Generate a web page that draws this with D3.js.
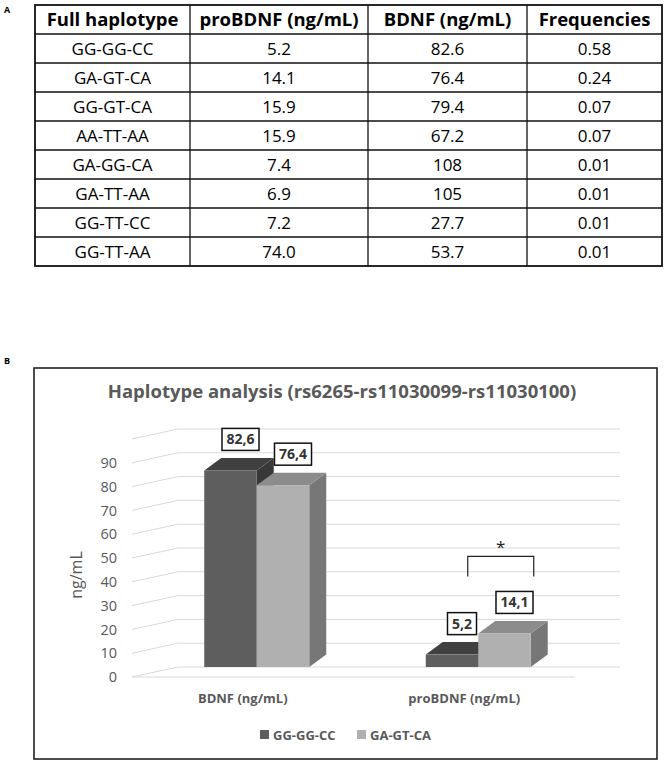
<!DOCTYPE html>
<html>
<head>
<meta charset="utf-8">
<script src="https://cdn.jsdelivr.net/npm/d3@7"></script>
<style>
  body { margin: 0; background: #fff; }
  svg { display: block; }
</style>
</head>
<body>
<div id="fig"></div>
<script>
// ---- panel A: table ----
const tableHeaders = ["Full haplotype", "proBDNF (ng/mL)", "BDNF (ng/mL)", "Frequencies"];
const haplotypes = ["GG-GG-CC", "GA-GT-CA", "GG-GT-CA", "AA-TT-AA", "GA-GG-CA", "GA-TT-AA", "GG-TT-CC", "GG-TT-AA"];
const proBdnfCol = ["5.2", "14.1", "15.9", "15.9", "7.4", "6.9", "7.2", "74.0"];
const bdnfCol = ["82.6", "76.4", "79.4", "67.2", "108", "105", "27.7", "53.7"];
const freqCol = ["0.58", "0.24", "0.07", "0.07", "0.01", "0.01", "0.01", "0.01"];

// ---- panel B: 3D bar chart ----
const categories = ["BDNF (ng/mL)", "proBDNF (ng/mL)"];
const seriesNames = ["GG-GG-CC", "GA-GT-CA"];
const ggggccValues = [82.6, 5.2];
const gagtcaValues = [76.4, 14.1];
const yTicks = [0, 10, 20, 30, 40, 50, 60, 70, 80, 90];
const gridValues = [0, 10, 20, 30, 40, 50, 60, 70, 80, 90, 100];
const sigBracket = { category: "proBDNF (ng/mL)", top: 46.5, bottom: 38 };

const width = 669;
const height = 765;
const grey = "#595959";
const font = "'Open Sans', sans-serif";

const svg = d3.select("#fig")
  .append("svg")
  .attr("width", width)
  .attr("height", height)
  .style("font-family", font);

svg.append("rect").attr("width", width).attr("height", height).attr("fill", "#fff");

// labels A / B
svg.append("text").attr("x", 4).attr("y", 13).text("A")
  .attr("font-size", "9px").attr("font-weight", "bold");
svg.append("text").attr("x", 4).attr("y", 364).text("B")
  .attr("font-size", "9px").attr("font-weight", "bold");

// ---- table ----
const colEdges = [35, 190, 368, 527, 662];
const rows = [tableHeaders].concat(haplotypes.map((h, i) => [h, proBdnfCol[i], bdnfCol[i], freqCol[i]]));
const rowY = d3.scaleBand().domain(d3.range(rows.length)).range([5, 266]);

const table = svg.append("g").attr("class", "table");

rows.forEach((row, r) => {
  row.forEach((cell, c) => {
    table.append("text")
      .attr("x", (colEdges[c] + colEdges[c + 1]) / 2)
      .attr("y", rowY(r) + rowY.bandwidth() / 2 + 6.5)
      .attr("text-anchor", "middle")
      .attr("font-size", r === 0 ? "18.5px" : "17px")
      .attr("font-weight", r === 0 ? "bold" : "normal")
      .attr("fill", "#000")
      .text(cell);
  });
});

// row lines
d3.range(1, rows.length).forEach(r => {
  table.append("line")
    .attr("x1", colEdges[0]).attr("x2", colEdges[4])
    .attr("y1", rowY(r)).attr("y2", rowY(r))
    .attr("stroke", "#111").attr("stroke-width", 1.3);
});
// column lines
colEdges.slice(1, 4).forEach(x => {
  table.append("line")
    .attr("x1", x).attr("x2", x)
    .attr("y1", 5).attr("y2", 266)
    .attr("stroke", "#111").attr("stroke-width", 1.3);
});
table.append("rect")
  .attr("x", colEdges[0]).attr("y", 5)
  .attr("width", colEdges[4] - colEdges[0]).attr("height", 261)
  .attr("fill", "none").attr("stroke", "#111").attr("stroke-width", 1.8);

// ---- chart frame ----
svg.append("rect")
  .attr("x", 34).attr("y", 368)
  .attr("width", 623).attr("height", 391)
  .attr("fill", "none").attr("stroke", "#222").attr("stroke-width", 1.6);

svg.append("text")
  .attr("x", 342).attr("y", 398)
  .attr("text-anchor", "middle")
  .attr("font-size", "18.5px").attr("font-weight", "bold")
  .attr("fill", grey)
  .text("Haplotype analysis (rs6265-rs11030099-rs11030100)");

// scales: y is on the back wall; front edge sits wallDx left and wallDy lower
const y = d3.scaleLinear().domain([0, 100]).range([667, 429]);
const wallDx = 46, wallDy = 10;
const frontLeft = 132, frontRight = 575;

const x0 = d3.scaleBand().domain(categories).range([frontLeft, frontRight]);
const groupW = 105;
const barShift = 14;
const x1 = d3.scaleBand().domain(seriesNames).range([0, groupW]);
const barDx = 17, barDy = -12.5;

const grid = svg.append("g").attr("stroke", "#d9d9d9").attr("stroke-width", 1);
gridValues.forEach(v => {
  grid.append("line")
    .attr("x1", frontLeft).attr("y1", y(v) + wallDy)
    .attr("x2", frontLeft + wallDx).attr("y2", y(v));
  grid.append("line")
    .attr("x1", frontLeft + wallDx).attr("y1", y(v))
    .attr("x2", frontRight + wallDx - 1).attr("y2", y(v));
});
grid.append("line")
  .attr("x1", frontLeft).attr("y1", y(0) + wallDy)
  .attr("x2", frontRight).attr("y2", y(0) + wallDy);

// y tick labels on the front edge
const yFront = d3.scaleLinear().domain([0, 100]).range([y(0) + wallDy, y(100) + wallDy]);
const yAxis = svg.append("g")
  .attr("transform", "translate(120,0)")
  .call(d3.axisLeft(yFront).tickValues(yTicks).tickSize(0).tickPadding(3));
yAxis.select(".domain").remove();
yAxis.selectAll("text")
  .attr("font-family", font).attr("font-size", "14.5px").attr("fill", grey);

svg.append("text")
  .attr("transform", "translate(82,575) rotate(-90)")
  .attr("text-anchor", "middle")
  .attr("font-size", "16px").attr("fill", grey)
  .text("ng/mL");

// bars
const seriesColors = {
  "GG-GG-CC": { front: "#5e5e5e", top: "#404040", side: "#383838" },
  "GA-GT-CA": { front: "#b0b0b0", top: "#8c8c8c", side: "#777777" }
};
const seriesValues = { "GG-GG-CC": ggggccValues, "GA-GT-CA": gagtcaValues };

const bars = [];
categories.forEach((c, ci) => {
  seriesNames.forEach(s => {
    const bx = x0(c) + (x0.bandwidth() - groupW) / 2 + barShift + x1(s);
    bars.push({ cat: c, series: s, value: seriesValues[s][ci], x: bx, w: x1.bandwidth() });
  });
});

const fmt = v => d3.format(".1f")(v).replace(".", ",");
const barG = svg.append("g");
bars.forEach(b => {
  const col = seriesColors[b.series];
  const yv = y(b.value), y0 = y(0);
  const g = barG.append("g");
  g.append("path")
    .attr("d", `M${b.x + b.w},${yv} L${b.x + b.w + barDx},${yv + barDy} L${b.x + b.w + barDx},${y0 + barDy} L${b.x + b.w},${y0} Z`)
    .attr("fill", col.side);
  g.append("path")
    .attr("d", `M${b.x},${yv} L${b.x + barDx},${yv + barDy} L${b.x + b.w + barDx},${yv + barDy} L${b.x + b.w},${yv} Z`)
    .attr("fill", col.top);
  g.append("rect")
    .attr("x", b.x).attr("y", yv)
    .attr("width", b.w).attr("height", y0 - yv)
    .attr("fill", col.front);
});

// data labels in boxes
bars.forEach(b => {
  const cx = b.x + b.w / 2 + 10;
  const bottom = y(b.value) - 20;
  const lg = svg.append("g");
  const t = lg.append("text")
    .attr("x", cx).attr("y", bottom - 6)
    .attr("text-anchor", "middle")
    .attr("font-size", "14px").attr("font-weight", "bold")
    .attr("fill", "#333")
    .text(fmt(b.value));
  const tw = t.node().getComputedTextLength();
  lg.insert("rect", "text")
    .attr("x", cx - tw / 2 - 4.5).attr("y", bottom - 22)
    .attr("width", tw + 9).attr("height", 22)
    .attr("fill", "#fff").attr("stroke", "#111").attr("stroke-width", 1.5);
});

// significance bracket
const sigBars = bars.filter(b => b.cat === sigBracket.category);
const bl = sigBars[0].x + sigBars[0].w * 0.8;
const br = sigBars[1].x + sigBars[1].w + 3;
svg.append("path")
  .attr("d", `M${bl},${y(sigBracket.bottom)} V${y(sigBracket.top)} H${br} V${y(sigBracket.bottom)}`)
  .attr("fill", "none").attr("stroke", "#222").attr("stroke-width", 1.2);
svg.append("text")
  .attr("x", (bl + br) / 2).attr("y", y(sigBracket.top) - 3)
  .attr("text-anchor", "middle")
  .attr("font-size", "17px").attr("fill", "#222")
  .text("*");

// category labels
categories.forEach(c => {
  svg.append("text")
    .attr("x", x0(c) + x0.bandwidth() / 2).attr("y", 703)
    .attr("text-anchor", "middle")
    .attr("font-size", "13px").attr("font-weight", "bold").attr("fill", grey)
    .text(c);
});

// legend
const legendX = [260, 357];
seriesNames.forEach((s, i) => {
  svg.append("rect")
    .attr("x", legendX[i]).attr("y", 730)
    .attr("width", 9).attr("height", 9)
    .attr("fill", seriesColors[s].front);
  svg.append("text")
    .attr("x", legendX[i] + 13).attr("y", 739.5)
    .attr("font-size", "13px").attr("font-weight", "bold").attr("fill", grey)
    .text(s);
});
</script>
</body>
</html>
